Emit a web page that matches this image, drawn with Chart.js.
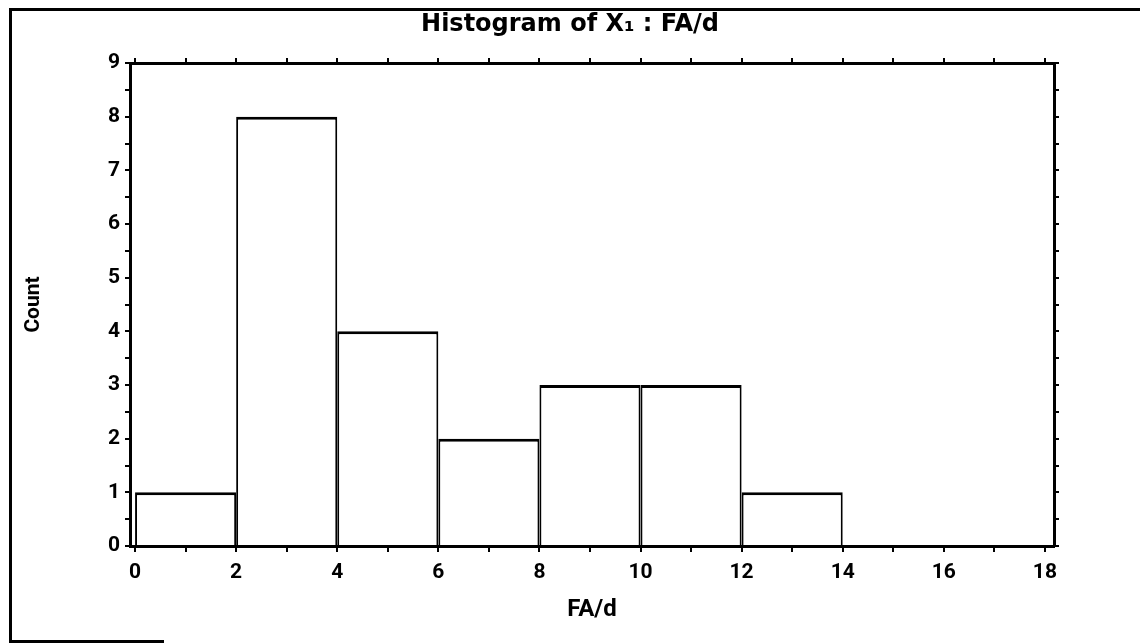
<!DOCTYPE html>
<html>
<head>
<meta charset="utf-8">
<title>Histogram of X1 : FA/d</title>
<script src="https://cdn.jsdelivr.net/npm/chart.js@4/dist/chart.umd.min.js"></script>
<style>
  html, body { margin: 0; padding: 0; background: #fff; }
  #wrap { position: relative; width: 1140px; height: 643px; overflow: hidden; }
  #histChart { position: absolute; left: 0; top: 0; }
  .rule { position: absolute; background: #000; }
</style>
</head>
<body>
<div id="wrap">
  <canvas id="histChart" width="1140" height="643"></canvas>
  <!-- marco exterior del grafico escaneado -->
  <div class="rule" style="left:9px; top:8px; width:3px; height:635px;"></div>
  <div class="rule" style="left:9px; top:8px; width:1131px; height:3px;"></div>
  <div class="rule" style="left:9px; top:640px; width:155px; height:3px;"></div>
</div>
<script>
// datos del histograma
const binEdges = [0, 2, 4, 6, 8, 10, 12, 14, 16, 18];
const counts = [1, 8, 4, 2, 3, 3, 1, 0, 0];
const xTickValues = [0, 1, 2, 3, 4, 5, 6, 7, 8, 9, 10, 11, 12, 13, 14, 15, 16, 17, 18];
const xTickLabels = ["0", "", "2", "", "4", "", "6", "", "8", "", "10", "", "12", "", "14", "", "16", "", "18"];
const yTickValues = [0, 1, 2, 3, 4, 5, 6, 7, 8, 9];

document.addEventListener("DOMContentLoaded", function () {
    const ctx = document.getElementById("histChart").getContext("2d");

    // cada barra va centrada en su intervalo
    const bars = counts.map((c, i) => ({ x: (binEdges[i] + binEdges[i + 1]) / 2, y: c }));

    // marcas menores del eje Y a medio paso
    const yAllTicks = [];
    yTickValues.forEach((v, i) => {
        yAllTicks.push({ value: v });
        if (i < yTickValues.length - 1) yAllTicks.push({ value: (v + yTickValues[i + 1]) / 2 });
    });

    const tickFont = { family: "Roboto", size: 21, weight: "bold" };
    const axisBorder = { display: true, color: "#000", width: 3 };
    const tickGrid = { drawOnChartArea: false, drawTicks: true, tickLength: 6, color: "#000", lineWidth: 2, offset: false };

    new Chart(ctx, {
        type: "bar",
        data: {
            datasets: [{
                label: "Count",
                data: bars,
                backgroundColor: "#fff",
                borderColor: "#000",
                borderWidth: { top: 3, left: 2, right: 2, bottom: 0 },
                borderSkipped: false,
                // el ancho minimo lo marcan las marcas de 1 unidad; el intervalo mide 2
                barPercentage: 2,
                categoryPercentage: 1,
                xAxisID: "x",
                yAxisID: "y"
            }]
        },
        options: {
            responsive: false,
            animation: false,
            layout: { padding: 0 },
            plugins: {
                legend: { display: false },
                tooltip: { enabled: false },
                title: {
                    display: true,
                    text: "Histogram of X\u2081 : FA/d",
                    color: "#000",
                    font: { family: "DejaVu Sans", size: 24, weight: "bold", lineHeight: 1 },
                    padding: { top: 13, bottom: 16 }
                }
            },
            scales: {
                x: {
                    type: "linear",
                    position: "bottom",
                    min: -0.1,
                    max: 18.18,
                    offset: false,
                    border: axisBorder,
                    grid: tickGrid,
                    afterBuildTicks: s => { s.ticks = xTickValues.map(v => ({ value: v })); },
                    afterFit: s => { s.height = 97; },
                    ticks: {
                        autoSkip: false,
                        maxRotation: 0,
                        color: "#000",
                        font: tickFont,
                        padding: 8,
                        callback: (v, i) => xTickLabels[i]
                    },
                    title: {
                        display: true,
                        text: "FA/d",
                        color: "#000",
                        font: { family: "Roboto", size: 24, weight: "bold" },
                        padding: { top: 0, bottom: 19 }
                    }
                },
                x2: {
                    type: "linear",
                    position: "top",
                    min: -0.1,
                    max: 18.18,
                    offset: false,
                    border: axisBorder,
                    grid: Object.assign({}, tickGrid, { tickLength: 5 }),
                    afterBuildTicks: s => { s.ticks = xTickValues.map(v => ({ value: v })); },
                    afterFit: s => { s.height = 10; },
                    ticks: { display: false }
                },
                y: {
                    position: "left",
                    min: 0,
                    max: 9,
                    border: axisBorder,
                    grid: Object.assign({}, tickGrid, { tickLength: 5 }),
                    afterBuildTicks: s => { s.ticks = yAllTicks.map(t => ({ value: t.value })); },
                    afterFit: s => { s.width = 130; },
                    ticks: {
                        autoSkip: false,
                        color: "#000",
                        font: tickFont,
                        padding: 5,
                        callback: v => (Number.isInteger(v) ? String(v) : "")
                    },
                    title: {
                        display: true,
                        text: "Count",
                        color: "#000",
                        font: { family: "Roboto", size: 21, weight: "bold" },
                        padding: { top: 21, bottom: 0 }
                    }
                },
                y2: {
                    position: "right",
                    min: 0,
                    max: 9,
                    border: axisBorder,
                    grid: Object.assign({}, tickGrid, { tickLength: 5 }),
                    afterBuildTicks: s => { s.ticks = yAllTicks.map(t => ({ value: t.value })); },
                    afterFit: s => { s.width = 86; },
                    ticks: { display: false }
                }
            }
        }
    });
});
</script>
</body>
</html>
